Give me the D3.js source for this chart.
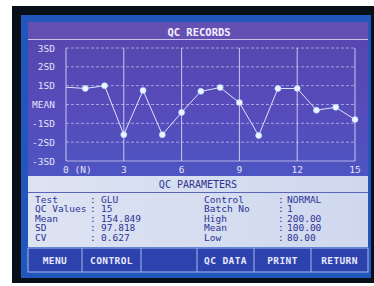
<!DOCTYPE html>
<html>
<head>
<meta charset="utf-8">
<script src="https://cdn.jsdelivr.net/npm/d3@7"></script>
<style>
  body { margin: 0; background: #fff; }
  svg { display: block; }
  text { font-family: "DejaVu Sans Mono", "Liberation Mono", monospace; }
</style>
</head>
<body>
<div id="chart"></div>
<script>
// QC values in SD units, N = 0..15 (point 0 has no marker)
var runs = [0, 1, 2, 3, 4, 5, 6, 7, 8, 9, 10, 11, 12, 13, 14, 15];
var sdValues = [0.92, 0.85, 1.0, -1.6, 0.75, -1.6, -0.42, 0.7, 0.9, 0.1, -1.65, 0.85, 0.85, -0.3, -0.15, -0.8];

var sdLevels = [3, 2, 1, 0, -1, -2, -3];
var sdLabels = ["3SD", "2SD", "1SD", "MEAN", "-1SD", "-2SD", "-3SD"];
var xTicks = [0, 3, 6, 9, 12, 15];
var xTickLabels = ["0 (N)", "3", "6", "9", "12", "15"];

var leftParams = [["Test", "GLU"], ["QC Values", "15"], ["Mean", "154.849"], ["SD", "97.818"], ["CV", "0.627"]];
var rightParams = [["Control", "NORMAL"], ["Batch No", "1"], ["High", "200.00"], ["Mean", "100.00"], ["Low", "80.00"]];
var buttons = ["MENU", "CONTROL", "", "QC DATA", "PRINT", "RETURN"];
var buttonEdges = [28, 82, 141, 197, 254, 311, 368];

var W = 374, H = 286;

var svg = d3.select("#chart").append("svg")
    .attr("width", W)
    .attr("height", H);

var defs = svg.append("defs");
var g1 = defs.append("linearGradient").attr("id", "plotbg").attr("x1", 0).attr("y1", 0).attr("x2", 0).attr("y2", 1);
g1.append("stop").attr("offset", "0%").attr("stop-color", "#5745ad");
g1.append("stop").attr("offset", "60%").attr("stop-color", "#564cbb");
g1.append("stop").attr("offset", "100%").attr("stop-color", "#4d55c2");
var g2 = defs.append("linearGradient").attr("id", "parambg").attr("x1", 0).attr("y1", 0).attr("x2", 1).attr("y2", 0);
g2.append("stop").attr("offset", "0%").attr("stop-color", "#dde3f2");
g2.append("stop").attr("offset", "100%").attr("stop-color", "#cfd8ee");

// device frame
svg.append("rect").attr("x", 12).attr("y", 6).attr("width", 362).attr("height", 277).attr("fill", "#071018");
svg.append("rect").attr("x", 21).attr("y", 15).attr("width", 350).attr("height", 263).attr("fill", "#2156bd");

// chart panel
svg.append("rect").attr("x", 28).attr("y", 22).attr("width", 340).attr("height", 154).attr("fill", "url(#plotbg)");
svg.append("rect").attr("x", 28).attr("y", 22).attr("width", 340).attr("height", 17).attr("fill", "#6450b2");
svg.append("line").attr("x1", 28).attr("x2", 368).attr("y1", 39.5).attr("y2", 39.5)
    .attr("stroke", "#c8c4ec").attr("stroke-width", 1.2);

svg.append("text")
    .attr("x", 199).attr("y", 35.5)
    .attr("text-anchor", "middle")
    .attr("font-size", 10.5).attr("font-weight", "bold")
    .attr("fill", "#f2f0ff")
    .text("QC RECORDS");

// scales
var x = d3.scaleLinear().domain([0, 15]).range([66, 355]);
var y = d3.scaleLinear().domain([-3, 3]).range([161, 48]);

// horizontal SD lines
svg.selectAll(".hgrid")
    .data(sdLevels)
  .enter().append("line")
    .attr("class", "hgrid")
    .attr("x1", x(0)).attr("x2", x(15))
    .attr("y1", function(d) { return y(d); })
    .attr("y2", function(d) { return y(d); })
    .attr("stroke", "#cdc9f0")
    .attr("stroke-opacity", function(d) { return d === -3 ? 0.9 : 0.75; })
    .attr("stroke-width", 0.9)
    .attr("stroke-dasharray", function(d) { return d === -3 ? null : "3,2"; });

// vertical lines
svg.selectAll(".vgrid")
    .data(xTicks)
  .enter().append("line")
    .attr("class", "vgrid")
    .attr("x1", function(d) { return x(d); })
    .attr("x2", function(d) { return x(d); })
    .attr("y1", y(3)).attr("y2", y(-3))
    .attr("stroke", "#d8d4f6")
    .attr("stroke-opacity", 0.9)
    .attr("stroke-width", 1);

// y labels
svg.selectAll(".ylab")
    .data(sdLevels)
  .enter().append("text")
    .attr("class", "ylab")
    .attr("x", 55)
    .attr("y", function(d) { return y(d) + 3.5; })
    .attr("text-anchor", "end")
    .attr("font-size", 9.5)
    .attr("fill", "#e4e2fa")
    .text(function(d, i) { return sdLabels[i]; });

// x labels
svg.selectAll(".xlab")
    .data(xTicks)
  .enter().append("text")
    .attr("class", "xlab")
    .attr("x", function(d) { return d === 0 ? x(d) - 3 : x(d); })
    .attr("y", 173)
    .attr("text-anchor", function(d) { return d === 0 ? "start" : "middle"; })
    .attr("font-size", 9.5)
    .attr("fill", "#e4e2fa")
    .text(function(d, i) { return xTickLabels[i]; });

// data line
var line = d3.line()
    .x(function(d, i) { return x(runs[i]); })
    .y(function(d) { return y(d); });

svg.append("path")
    .datum(sdValues)
    .attr("d", line)
    .attr("fill", "none")
    .attr("stroke", "#e2e2ff")
    .attr("stroke-width", 1);

svg.selectAll(".pt")
    .data(sdValues.slice(1))
  .enter().append("circle")
    .attr("class", "pt")
    .attr("cx", function(d, i) { return x(runs[i + 1]); })
    .attr("cy", function(d) { return y(d); })
    .attr("r", 3)
    .attr("fill", "#e8f6ff")
    .attr("stroke", "#b8d8ff")
    .attr("stroke-width", 0.6);

// parameters panel
svg.append("rect").attr("x", 28).attr("y", 176).attr("width", 340).attr("height", 71).attr("fill", "url(#parambg)");
svg.append("line").attr("x1", 28).attr("x2", 368).attr("y1", 192.5).attr("y2", 192.5)
    .attr("stroke", "#5a64b8").attr("stroke-width", 1);
svg.append("text")
    .attr("x", 198).attr("y", 188)
    .attr("text-anchor", "middle")
    .attr("font-size", 10)
    .attr("fill", "#2f3490")
    .text("QC PARAMETERS");

function paramRows(data, xLab, xColon, xVal) {
    var rows = svg.append("g").selectAll("g")
        .data(data)
      .enter().append("g")
        .attr("transform", function(d, i) { return "translate(0," + (202.5 + i * 9.5) + ")"; });
    rows.append("text").attr("x", xLab).attr("font-size", 9.5).attr("fill", "#2d3396")
        .text(function(d) { return d[0]; });
    rows.append("text").attr("x", xColon).attr("font-size", 9.5).attr("fill", "#2d3396")
        .text(":");
    rows.append("text").attr("x", xVal).attr("font-size", 9.5).attr("fill", "#2d3396")
        .text(function(d) { return d[1]; });
}
paramRows(leftParams, 35, 90, 101);
paramRows(rightParams, 204, 278, 287);

// button bar
svg.append("rect").attr("x", 28).attr("y", 248).attr("width", 340).attr("height", 24)
    .attr("fill", "#2c43ae").attr("stroke", "#a9b6ea").attr("stroke-width", 1);
svg.selectAll(".bsep")
    .data(buttonEdges.slice(1, -1))
  .enter().append("line")
    .attr("class", "bsep")
    .attr("x1", function(d) { return d; }).attr("x2", function(d) { return d; })
    .attr("y1", 248).attr("y2", 272)
    .attr("stroke", "#a9b6ea").attr("stroke-width", 1);
svg.selectAll(".blab")
    .data(buttons)
  .enter().append("text")
    .attr("class", "blab")
    .attr("x", function(d, i) { return (buttonEdges[i] + buttonEdges[i + 1]) / 2; })
    .attr("y", 263.5)
    .attr("text-anchor", "middle")
    .attr("font-size", 9.5).attr("font-weight", "bold")
    .attr("letter-spacing", 0.4)
    .attr("fill", "#e8e8ff")
    .text(function(d) { return d; });
</script>
</body>
</html>
